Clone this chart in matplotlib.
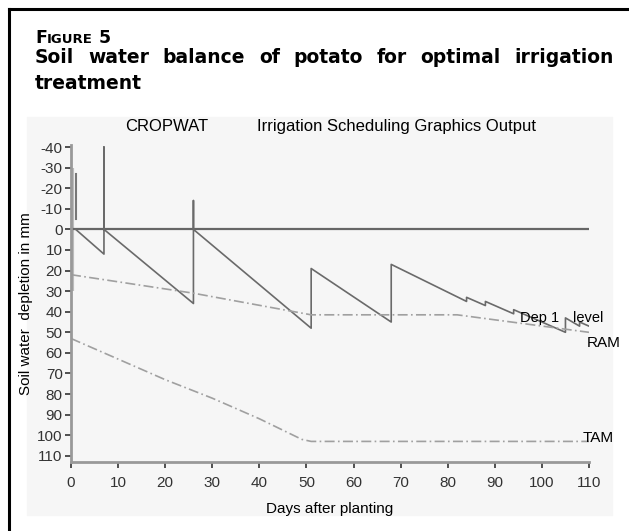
import matplotlib.pyplot as plt
from matplotlib.patches import Rectangle
from matplotlib.lines import Line2D

plt.rcParams['font.family'] = ['Liberation Sans', 'DejaVu Sans']

# soil water depletion (mm) after planting (days); negative = irrigation spike
dep_days = [1, 7, 7, 7, 26, 26, 26, 51, 51, 68, 68, 84, 84, 88, 88, 94, 94, 105, 105, 108, 108, 110]
dep_mm = [0, 12, -40, 0, 36, -14, 0, 48, 19, 45, 17, 35, 33, 37, 35, 41, 39, 50, 43, 47, 45, 47]
start_days = [0.3, 0.3]
start_mm = [-30, 30]
start2_days = [1, 1]
start2_mm = [-27, -5]
ram_days = [0, 26, 51, 82, 110]
ram_mm = [22, 31, 41.5, 41.5, 50]
tam_days = [0, 10, 20, 30, 40, 49, 51, 110]
tam_mm = [53, 63, 73, 82, 92, 102, 103, 103]
x_ticks = list(range(0, 111, 10))
y_ticks = list(range(-40, 111, 10))

W, H = 629, 531
fig = plt.figure(figsize=(W / 100, H / 100), dpi=100)
r = fig.canvas.get_renderer()
head = dict(fontweight='bold', family=['DejaVu Sans'])

# outer frame (left and top edges visible)
fig.add_artist(Line2D([9 / W, 9 / W], [0, 1 - 9 / H], transform=fig.transFigure, color='black', lw=2.2))
fig.add_artist(Line2D([9 / W, 1], [1 - 9 / H, 1 - 9 / H], transform=fig.transFigure, color='black', lw=2.2))

# grey panel behind the chart
fig.add_artist(Rectangle((27 / W, 1 - 515 / H), (612 - 27) / W, (515 - 117) / H,
                         transform=fig.transFigure, color='#f6f6f6', zorder=0))

# "FIGURE 5" in small caps
x = 35
for s, fs in [('F', 12.5), ('IGURE', 9.5), (' 5', 12.5)]:
    t = fig.text(x / W, 1 - 43 / H, s, fontsize=fs, **head)
    x += t.get_window_extent(r).width

# justified title line
words = 'Soil water balance of potato for optimal irrigation'.split()
texts = [fig.text(0, 1 - 63 / H, w, fontsize=13.5, **head) for w in words]
widths = [t.get_window_extent(r).width for t in texts]
gap = (614 - 35 - sum(widths)) / (len(words) - 1)
x = 35
for t, w in zip(texts, widths):
    t.set_x(x / W)
    x += w + gap
fig.text(35 / W, 1 - 89 / H, 'treatment', fontsize=13.5, **head)

ax = fig.add_axes([71 / W, 1 - 462 / H, (589 - 71) / W, (462 - 145) / H])
ax.set_facecolor('none')

ax.plot(start_days, start_mm, color='#bbbbbb', lw=3, solid_capstyle='butt')
ax.plot(start2_days, start2_mm, color='#777777', lw=1.5)
ax.plot([0, 110], [0, 0], color='#666666', lw=1.6)
ax.plot(dep_days, dep_mm, color='#6a6a6a', lw=1.2)
ax.plot(ram_days, ram_mm, color='#a0a0a0', lw=1.2, ls=(0, (6, 2, 1, 2)))
ax.plot(tam_days, tam_mm, color='#a0a0a0', lw=1.2, ls=(0, (6, 2, 1, 2)))

ax.text(95.3, 43, 'Dep 1', fontsize=10.5, va='center')
ax.text(106.6, 43, 'level', fontsize=10.5, va='center')
ax.text(109.5, 55, 'RAM', fontsize=11, va='center', clip_on=False)
ax.text(108.7, 101.5, 'TAM', fontsize=11, va='center', clip_on=False)

ax.set_xlim(0, 110)
ax.set_ylim(113, -41)
ax.set_xticks(x_ticks)
ax.set_yticks(y_ticks)
ax.set_yticklabels([str(v) for v in y_ticks])
ax.tick_params(labelsize=11, colors='#333333', length=4, width=1.2)
ax.tick_params(axis='x', pad=6)
ax.tick_params(axis='y', pad=2)
for s in ['top', 'right']:
    ax.spines[s].set_visible(False)
for s in ['left', 'bottom']:
    ax.spines[s].set_color('#999999')
    ax.spines[s].set_linewidth(2)

ax.set_xlabel('Days after planting', fontsize=11)
ax.xaxis.set_label_coords(0.5, -0.125)
ax.set_ylabel('Soil water  depletion in mm', fontsize=11)
ax.yaxis.set_label_coords(-0.073, 0.5)
ax.text(0.104, 1.057, 'CROPWAT', transform=ax.transAxes, fontsize=12, ha='left', va='center')
ax.text(0.359, 1.057, 'Irrigation Scheduling Graphics Output', transform=ax.transAxes,
        fontsize=12, ha='left', va='center')

fig.savefig('out.png', dpi=100)
